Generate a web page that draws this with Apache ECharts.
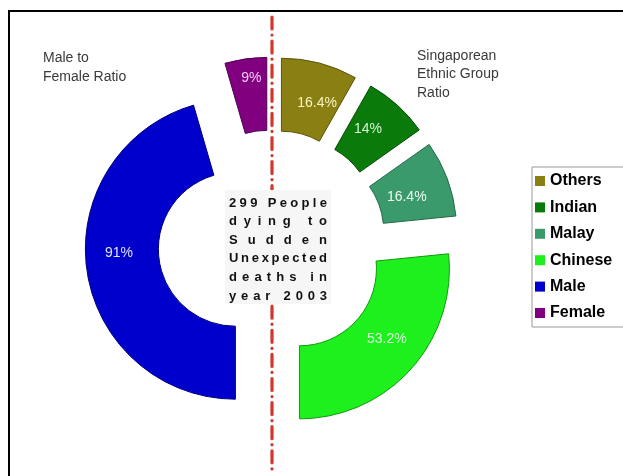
<!DOCTYPE html>
<html>
<head>
<meta charset="utf-8">
<script src="https://cdn.jsdelivr.net/npm/echarts@6/dist/echarts.min.js"></script>
<style>
  html, body { margin: 0; padding: 0; background: #fff; }
  #chart { width: 623px; height: 476px; }
</style>
</head>
<body>
<div id="chart"></div>
<script>
// Right half: ethnic groups (sum 100); left half: sex (sum 100)
const groups = ['Others', 'Indian', 'Malay', 'Chinese', 'Male', 'Female'];
const shares = [16.4, 14, 16.4, 53.2, 91, 9];
const sliceColors = ['#8a7f12', '#0a7a0a', '#3a9a6b', '#1ef01e', '#0000cc', '#800080'];
const edgeColors = ['#5c5408', '#064f06', '#256a48', '#109a10', '#00007a', '#500050'];
const labelColors = ['#fbf4c4', '#d6f3d6', '#eefcf2', '#d6fcd6', '#e4e4ff', '#f6c9f6'];
// small shifts [dx, dy] of each value label away from the ring's mid-radius
const labelNudge = [[6, 8], [-7, -1], [-9, 7], [1, -8], [-1, -12], [1, -14]];

const centerLines = ['299 People', 'dying to', 'Sudden', 'Unexpected', 'deaths in', 'year 2003'];
const leftTitle = ['Male to', 'Female Ratio'];
const rightTitle = ['Singaporean', 'Ethnic Group', 'Ratio'];

const FONT = '"Liberation Sans", Arial, sans-serif';
const chart = echarts.init(document.getElementById('chart'), null, { renderer: 'canvas' });

const pieData = groups.map((name, i) => ({
  name,
  value: shares[i],
  selected: true,
  itemStyle: { color: sliceColors[i], borderColor: edgeColors[i], borderWidth: 1 },
  select: { itemStyle: { color: sliceColors[i], borderColor: edgeColors[i], borderWidth: 1 } },
  label: { color: labelColors[i] }
}));

const graphics = [];
// frame
graphics.push({
  type: 'rect', z: 1,
  shape: { x: 9, y: 11, width: 700, height: 600 },
  style: { fill: 'none', stroke: '#000', lineWidth: 2 }
});
// dash-dot divider between the two halves
graphics.push({
  type: 'line', z: 20,
  shape: { x1: 272, y1: 17, x2: 272, y2: 472 },
  style: { stroke: '#d3362c', lineWidth: 3.2, lineDash: [12, 6, 0.1, 6], lineCap: 'round' }
});
// caption backdrop
graphics.push({
  type: 'rect', z: 21,
  shape: { x: 225, y: 190, width: 106, height: 114 },
  style: { fill: '#f6f6f6' }
});

// Justified caption: every line spread over the same width
const capFont = 'bold 13px ' + FONT;
const ctx = document.createElement('canvas').getContext('2d');
ctx.font = capFont;
const capLeft = 229, capWidth = 98, capTop = 203, capStep = 18.6;
centerLines.forEach((line, i) => {
  const chars = Array.from(line);
  const widths = chars.map(c => ctx.measureText(c).width);
  const total = widths.reduce((a, b) => a + b, 0);
  const gap = (capWidth - total) / (chars.length - 1);
  let x = capLeft;
  chars.forEach((c, j) => {
    if (c !== ' ') {
      graphics.push({
        type: 'text', z: 22, x: x, y: capTop + i * capStep,
        style: { text: c, font: capFont, fill: '#111', verticalAlign: 'middle', align: 'left' }
      });
    }
    x += widths[j] + gap;
  });
});

graphics.push({
  type: 'text', z: 22, x: 43, y: 49,
  style: { text: leftTitle.join('\n'), font: '14px ' + FONT, fill: '#3a3a3a', lineHeight: 18.5 }
});
graphics.push({
  type: 'text', z: 22, x: 417, y: 47,
  style: { text: rightTitle.join('\n'), font: '14px ' + FONT, fill: '#3a3a3a', lineHeight: 18.3 }
});

chart.setOption({
  animation: false,
  backgroundColor: '#fff',
  legend: {
    orient: 'vertical',
    left: 532, top: 167,
    data: groups,
    icon: 'rect',
    itemWidth: 10, itemHeight: 10,
    itemGap: 8.4,
    padding: [5, 12, 5, 3],
    selectedMode: false,
    backgroundColor: '#fff',
    borderColor: '#999', borderWidth: 1, borderRadius: 0,
    itemStyle: { borderWidth: 0 },
    textStyle: { fontFamily: FONT, fontSize: 16, fontWeight: 'bold', color: '#000', lineHeight: 18, padding: [0, 0, 0, 0] }
  },
  series: [{
    type: 'pie',
    center: [272, 244],
    radius: [77, 150],
    startAngle: 90,
    clockwise: true,
    selectedMode: 'multiple',
    selectedOffset: 37,
    avoidLabelOverlap: false,
    emphasis: { disabled: true },
    label: { show: true, position: 'inside', formatter: '{c}%', fontFamily: FONT, fontSize: 14 },
    labelLine: { show: false },
    labelLayout: function (p) {
      const d = labelNudge[p.dataIndex];
      return { dx: d[0], dy: d[1] };
    },
    data: pieData
  }],
  graphic: graphics
});
</script>
</body>
</html>
